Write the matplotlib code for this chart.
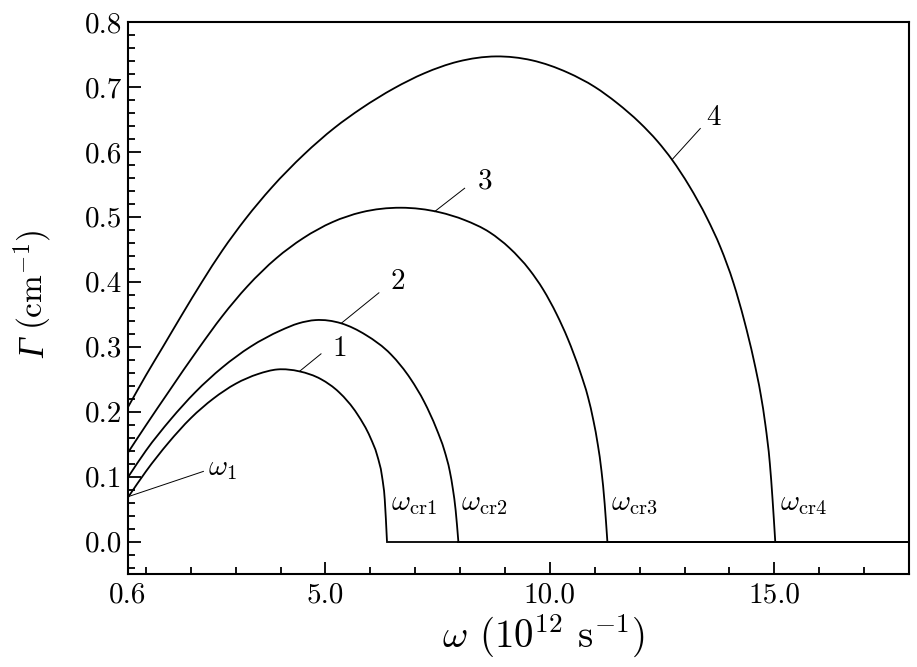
import numpy as np
import matplotlib
matplotlib.use("Agg")
import matplotlib.pyplot as plt
from matplotlib.path import Path
from matplotlib.patches import PathPatch
from matplotlib.ticker import FixedLocator, FormatStrFormatter, MultipleLocator

plt.rcParams['font.family'] = 'serif'
plt.rcParams['font.serif'] = ['cmr10']
plt.rcParams['mathtext.fontset'] = 'cm'
plt.rcParams['axes.formatter.use_mathtext'] = True

# curves: omega (1e12 s^-1) vs Gamma (cm^-1)
# each curve ends at its critical frequency, then Gamma = 0 up to 18
w1 = [0.6, 1.0, 1.5, 2.0, 2.5, 3.0, 3.5, 3.93, 4.42, 4.9, 5.3, 5.71, 6.0, 6.15, 6.26, 6.32, 6.37, 18.0]
g1 = [0.068, 0.108, 0.152, 0.190, 0.220, 0.243, 0.258, 0.265, 0.262, 0.250, 0.230, 0.196, 0.160, 0.133, 0.100, 0.065, 0.0, 0.0]

w2 = [0.6, 1.0, 1.55, 2.1, 2.7, 3.33, 4.0, 4.4, 4.78, 5.35, 5.9, 6.46, 6.9, 7.2, 7.47, 7.65, 7.77, 7.84, 7.9, 7.96, 18.0]
g2 = [0.099, 0.140, 0.188, 0.230, 0.268, 0.300, 0.325, 0.336, 0.341, 0.336, 0.318, 0.288, 0.250, 0.215, 0.174, 0.140, 0.108, 0.080, 0.048, 0.0, 0.0]

w3 = [0.6, 1.0, 1.5, 2.18, 2.7, 3.26, 3.9, 4.5, 5.16, 5.8, 6.68, 7.54, 8.1, 8.66, 9.1, 9.55, 9.85, 10.15, 10.4, 10.67, 10.85, 10.97, 11.07, 11.15, 11.22, 11.28, 18.0]
g3 = [0.137, 0.179, 0.230, 0.298, 0.347, 0.393, 0.436, 0.467, 0.492, 0.507, 0.514, 0.507, 0.495, 0.476, 0.452, 0.418, 0.388, 0.350, 0.312, 0.262, 0.222, 0.186, 0.148, 0.108, 0.058, 0.0, 0.0]

w4 = [0.6, 1.0, 1.38, 1.8, 2.25, 2.7, 3.22, 3.8, 4.52, 5.2, 5.8, 6.53, 7.2, 7.95, 8.8, 9.6, 10.4, 11.0, 11.5, 12.0, 12.4, 12.72, 13.1, 13.5, 13.8, 14.09, 14.33, 14.54, 14.7, 14.8, 14.9, 14.96, 15.02, 18.0]
g4 = [0.207, 0.256, 0.300, 0.349, 0.400, 0.448, 0.497, 0.545, 0.596, 0.637, 0.667, 0.698, 0.721, 0.739, 0.747, 0.741, 0.722, 0.700, 0.675, 0.645, 0.616, 0.588, 0.548, 0.498, 0.453, 0.398, 0.340, 0.280, 0.225, 0.180, 0.120, 0.065, 0.0, 0.0]

# curve labels: text position and leader line (curve point -> text)
curve_labels = ['1', '2', '3', '4']
label_xy = [(5.31, 0.297), (6.61, 0.400), (8.55, 0.554), (13.65, 0.653)]
leader_from = [(4.42, 0.262), (5.35, 0.336), (7.43, 0.508), (12.72, 0.588)]
leader_to = [(4.90, 0.289), (6.19, 0.383), (8.10, 0.544), (13.35, 0.636)]

cr_labels = [r'$\omega_{\mathrm{cr1}}$', r'$\omega_{\mathrm{cr2}}$',
             r'$\omega_{\mathrm{cr3}}$', r'$\omega_{\mathrm{cr4}}$']
cr_x = [6.46, 8.03, 11.37, 15.12]
cr_y = 0.058

xticks = [0.6, 5.0, 10.0, 15.0]
yticks = [0.0, 0.1, 0.2, 0.3, 0.4, 0.5, 0.6, 0.7, 0.8]


def smooth_path(x, y):
    # cubic hermite through the read points (slopes from neighbours), as bezier pieces
    x = np.asarray(x, float)
    y = np.asarray(y, float)
    h = np.diff(x)
    d = np.diff(y) / h
    m = np.empty_like(x)
    m[0], m[-1] = d[0], d[-1]
    m[1:-1] = (d[:-1] * h[1:] + d[1:] * h[:-1]) / (h[:-1] + h[1:])
    verts = [(x[0], y[0])]
    codes = [Path.MOVETO]
    for i in range(len(x) - 1):
        verts += [(x[i] + h[i] / 3, y[i] + m[i] * h[i] / 3),
                  (x[i + 1] - h[i] / 3, y[i + 1] - m[i + 1] * h[i] / 3),
                  (x[i + 1], y[i + 1])]
        codes += [Path.CURVE4] * 3
    return Path(verts, codes)


fig = plt.figure(figsize=(9.17, 6.67), dpi=100)
ax = fig.add_axes([128/917, (667-574)/667, (909-128)/917, (574-22)/667])

for w, g in [(w1, g1), (w2, g2), (w3, g3), (w4, g4)]:
    # smooth arc up to the critical point, straight zero line after it
    ax.add_patch(PathPatch(smooth_path(w[:-1], g[:-1]), fill=False, edgecolor='black', lw=1.3))
    ax.plot(w[-2:], g[-2:], color='black', lw=1.3)

for lab, (tx, ty), (ax0, ay0), (ax1, ay1) in zip(curve_labels, label_xy, leader_from, leader_to):
    ax.plot([ax0, ax1], [ay0, ay1], color='black', lw=0.7)
    ax.text(tx, ty, lab, fontsize=21, ha='center', va='center')

ax.plot([0.6, 2.28], [0.069, 0.108], color='black', lw=0.7)
ax.text(2.38, 0.112, r'$\omega_1$', fontsize=21, ha='left', va='center')

for lab, x in zip(cr_labels, cr_x):
    ax.text(x, cr_y, lab, fontsize=21, ha='left', va='center')

ax.set_xlim(0.6, 18.0)
ax.set_ylim(-0.05, 0.8)
ax.xaxis.set_major_locator(FixedLocator(xticks))
ax.xaxis.set_minor_locator(FixedLocator(list(range(1, 19))))
ax.yaxis.set_major_locator(FixedLocator(yticks))
ax.yaxis.set_minor_locator(MultipleLocator(0.02))
ax.xaxis.set_major_formatter(FormatStrFormatter('%.1f'))
ax.yaxis.set_major_formatter(FormatStrFormatter('%.1f'))
ax.tick_params(which='both', direction='in', top=False, right=False, labelsize=21, width=1.3)
ax.tick_params(which='major', length=9)
ax.tick_params(which='minor', length=5)
ax.tick_params(axis='x', pad=6)
ax.tick_params(axis='y', pad=4)
for s in ax.spines.values():
    s.set_linewidth(1.5)

# axis titles (Gamma set in italic, as in the original)
fig.text(544/917, 1 - 636/667, r'$\omega$ (10$^{12}$ s$^{-1}$)', fontsize=28, ha='center', va='center')
fig.text(36/917, 1 - 348/667, 'Γ', fontsize=25, family='Liberation Serif', style='italic',
         rotation=90, ha='center', va='center')
fig.text(33/917, 1 - 280/667, r'(cm$^{-1}$)', fontsize=24, rotation=90, ha='center', va='center')

fig.savefig('out.png', dpi=100)
